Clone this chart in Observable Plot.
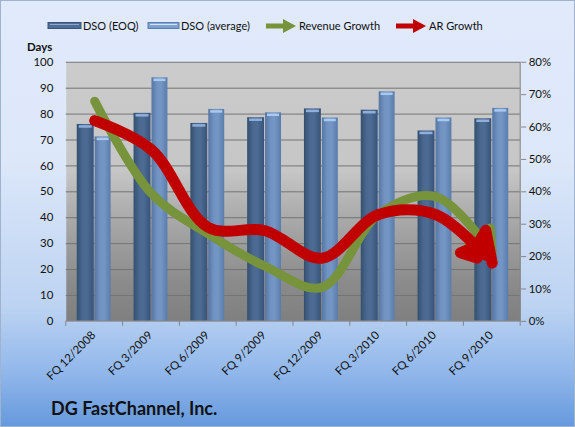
<!DOCTYPE html>
<html><head><meta charset="utf-8">
<script src="https://cdn.jsdelivr.net/npm/d3@7"></script>
<script src="https://cdn.jsdelivr.net/npm/@observablehq/plot@0.6"></script>
<style>
body{margin:0;background:#fff;}
#chart{position:relative;width:575px;height:427px;box-sizing:border-box;border:1px solid #9fb3cf;
 background:linear-gradient(#e0eafb 0%,#dce7f9 38%,#bcd3f2 72%,#8fb6ea 88%,#6699dd 100%);
 font-family:Lato,"Open Sans",sans-serif;overflow:hidden;color:#111;}
#chart svg.plot{position:absolute;left:-1px;top:-1px;}
.lg{position:absolute;top:17px;font-size:11px;line-height:16px;white-space:nowrap;}
.sw{position:absolute;top:20px;}
#days{position:absolute;left:26px;top:39px;font-weight:bold;font-size:11.5px;}
#title{position:absolute;left:50px;top:396px;font-weight:bold;font-size:18px;}
</style></head>
<body>
<div id="chart">
  <svg class="sw" style="left:46px" width="36" height="10"><rect x="1" y="1.5" width="33" height="6" fill="#4f6d96" stroke="#3a5479"/><line x1="3" x2="32" y1="3.5" y2="3.5" stroke="#8ea9cf" stroke-width="1"/></svg>
  <div class="lg" style="left:82px">DSO (EOQ)</div>
  <svg class="sw" style="left:146px" width="36" height="10"><rect x="1" y="1.5" width="31" height="6" fill="#7b9fd0" stroke="#5b7fb0"/><line x1="3" x2="30" y1="3.5" y2="3.5" stroke="#d2e4f8" stroke-width="1.2"/></svg>
  <div class="lg" style="left:180px">DSO (average)</div>
  <svg class="sw" style="left:264px;top:17px" width="32" height="16"><line x1="1" x2="20" y1="8" y2="8" stroke="#77933c" stroke-width="5"/><path d="M18,1 L31,8 L18,15 Z" fill="#77933c"/></svg>
  <div class="lg" style="left:298px">Revenue Growth</div>
  <svg class="sw" style="left:394px;top:17px" width="32" height="16"><line x1="1" x2="20" y1="8" y2="8" stroke="#c00000" stroke-width="5"/><path d="M18,1 L31,8 L18,15 Z" fill="#c00000"/></svg>
  <div class="lg" style="left:428px">AR Growth</div>
  <div id="days">Days</div>
  <div id="title">DG FastChannel, Inc.</div>
</div>
<script>
const quarters = ["FQ 12/2008","FQ 3/2009","FQ 6/2009","FQ 9/2009","FQ 12/2009","FQ 3/2010","FQ 6/2010","FQ 9/2010"];
const dsoEoq = [76, 80.3, 76.4, 78.6, 82, 81.5, 73.5, 78.2];
const dsoAvg = [71.2, 94, 81.8, 80.5, 78.5, 88.6, 78.5, 82.2];
const revenueGrowth = [68, 39.5, 27, 17, 10.5, 33, 38.5, 21];   // percent, right axis
const arGrowth = [62, 53, 29, 28, 19.5, 33, 33, 18];            // percent, right axis
const daysTicks = [0,10,20,30,40,50,60,70,80,90,100];
const pctTicks = [0,10,20,30,40,50,60,70,80];

const table = quarters.map((q, i) => ({q, eoq: dsoEoq[i], avg: dsoAvg[i], rev: revenueGrowth[i], ar: arGrowth[i]}));
const pctToDays = p => p / 80 * 100;

const defs = () => {
  const d = d3.create("svg:defs");
  const bg = d.append("linearGradient").attr("id","plotBg").attr("x1",0).attr("y1",0).attr("x2",0).attr("y2",1);
  [[0,"#cbcbcb"],[0.42,"#c6c6c6"],[0.55,"#b1b1b1"],[0.7,"#9d9d9d"],[0.85,"#8b8b8b"],[1,"#7f7f7f"]]
    .forEach(([o,c]) => bg.append("stop").attr("offset",o).attr("stop-color",c));
  const g1 = d.append("linearGradient").attr("id","gEoq");
  [[0,"#34506f"],[0.35,"#4a6890"],[0.6,"#4d6b93"],[1,"#37537a"]]
    .forEach(([o,c]) => g1.append("stop").attr("offset",o).attr("stop-color",c));
  const g2 = d.append("linearGradient").attr("id","gAvg");
  [[0,"#5676a3"],[0.35,"#7193c2"],[0.6,"#7496c5"],[1,"#5a7cab"]]
    .forEach(([o,c]) => g2.append("stop").attr("offset",o).attr("stop-color",c));
  return d.node();
};

const arrowHead = (L, W, notch) => (color) => {
  const m = d3.create("svg:marker")
    .attr("markerUnits","userSpaceOnUse")
    .attr("viewBox", `${-L} ${-W/2} ${L} ${W}`)
    .attr("markerWidth", L).attr("markerHeight", W)
    .attr("refX", 0).attr("refY", 0)
    .attr("orient","auto").attr("overflow","visible");
  m.append("path").attr("fill", color)
    .attr("d", `M0,0L${-L},${-W/2}L${-L*notch},0L${-L},${W/2}Z`);
  return m.node();
};

const frameLines = (index, scales, values, dims) => {
  const {width, height, marginLeft, marginRight, marginTop, marginBottom} = dims;
  const x0 = marginLeft, x1 = width - marginRight, yb = height - marginBottom;
  const g = d3.create("svg:g").attr("stroke","#868686").attr("fill","none");
  g.append("path").attr("d", `M${x0},${yb}H${x1}M${x1},${marginTop}V${yb}`);
  const n = quarters.length, step = (x1 - x0) / n;
  for (let i = 0; i <= n; i++) g.append("path").attr("d", `M${x0 + i*step},${yb}v5`);
  return g.node();
};

const plot = Plot.plot({
  width: 575, height: 427,
  marginTop: 62, marginBottom: 105, marginLeft: 66, marginRight: 53,
  style: {background: "transparent", fontFamily: "Lato, 'Open Sans', sans-serif", fontSize: "11.5px", color: "#111"},
  x: {type: "band", domain: quarters, padding: 0, label: null},
  y: {domain: [0, 100], label: null},
  marks: [
    defs,
    Plot.frame({fill: "url(#plotBg)", stroke: "none"}),
    Plot.ruleY(daysTicks.slice(1), {stroke: "#747474", strokeWidth: 1}),
    Plot.barY(table, {x: "q", y: "eoq", fill: "url(#gEoq)", insetLeft: 11, insetRight: 29}),
    Plot.barY(table, {x: "q", y: "avg", fill: "url(#gAvg)", insetLeft: 29, insetRight: 12}),
    Plot.tickY(table, {x: "q", y: "eoq", stroke: "#8fb0dc", strokeWidth: 2.5, insetLeft: 13, insetRight: 31, dy: 2}),
    Plot.tickY(table, {x: "q", y: "avg", stroke: "#a9c9ef", strokeWidth: 2.5, insetLeft: 31, insetRight: 14, dy: 2}),
    Plot.line(table, {x: "q", y: d => pctToDays(d.rev), curve: "catmull-rom", stroke: "#77933c", strokeWidth: 9, markerEnd: arrowHead(22, 26, 0.8)}),
    Plot.line(table, {x: "q", y: d => pctToDays(d.ar), curve: "catmull-rom", stroke: "#c00000", strokeWidth: 11, markerEnd: arrowHead(29, 34, 0.8)}),
    frameLines,
    Plot.axisY(daysTicks, {anchor: "left", tickSize: 0, tickPadding: 13, label: null}),
    Plot.axisY(pctTicks.map(pctToDays), {anchor: "right", tickSize: 5, tickPadding: 3, stroke: "#868686", tickFormat: d => Math.round(d * 0.8) + "%", label: null}),
    Plot.axisX({tickRotate: -45, tickSize: 0, tickPadding: 12, dx: -1, label: null})
  ]
});
plot.classList.add("plot");
document.getElementById("chart").appendChild(plot);

// hide the thick line ends under the arrow heads
const cuts = [15, 20];
d3.select(plot).selectAll("g[aria-label=line] path").each(function(_, i) {
  const L = this.getTotalLength();
  const c = cuts[i] ?? 16;
  this.setAttribute("stroke-dasharray", `${L - c} ${L + 50}`);
});
</script>
</body></html>
